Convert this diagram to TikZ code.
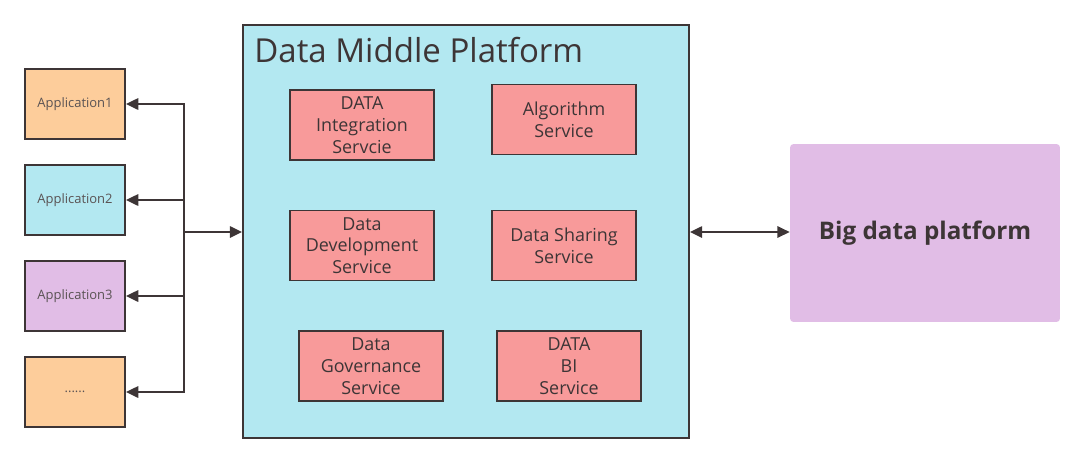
\documentclass[tikz,border=0pt]{standalone}
\usepackage{fontspec}
\setmainfont{Open Sans}
\usepackage{tikz}
\usetikzlibrary{arrows,arrows.meta,backgrounds,calc}
\definecolor{lineC}{HTML}{3D3536}
\definecolor{appO}{HTML}{FDCD9B}
\definecolor{appC}{HTML}{B3E8F1}
\definecolor{appP}{HTML}{E1BDE6}
\definecolor{servR}{HTML}{F89A9A}

\begin{document}
\begin{tikzpicture}[x=0.02cm,y=-0.02cm,
  app/.style={draw=lineC,line width=1.1pt,minimum width=2cm,minimum height=1.4cm,
    font=\fontsize{7.4}{9}\selectfont,text=lineC!85},
  serv/.style={draw=lineC,line width=1.1pt,fill=servR,minimum width=2.88cm,minimum height=1.4cm,
    align=center,font=\fontsize{10.2}{12.4}\selectfont,text=lineC},
  conn/.style={draw=lineC,line width=1.1pt,>={Triangle[length=7pt,width=6.5pt]}}]
\useasboundingbox (0,0) rectangle (1084,464);
% applications
\node[app,fill=appO] (app1) at (75,104) {Application1};
\node[app,fill=appC] (app2) at (75,200) {Application2};
\node[app,fill=appP] (app3) at (75,296) {Application3};
\node[app,fill=appO] (app4) at (75,392) {......};
% data middle platform
\node[draw=lineC,line width=1.1pt,fill=appC,minimum width=8.92cm,minimum height=8.26cm] (dmp) at (466,231.5) {};
\node[below right,inner sep=0pt,font=\fontsize{18.8}{20}\selectfont,text=lineC] (title) at (254,37) {Data Middle Platform};
\node[serv] (integ) at (362,125) {DATA\\Integration\\Servcie};
\node[serv] (algo) at (564,119.5) {Algorithm\\Service};
\node[serv] (devel) at (362,245.5) {Data\\Development\\Service};
\node[serv] (share) at (564,245.5) {Data Sharing\\Service};
\node[serv] (gov) at (371,366) {Data\\Governance\\Service};
\node[serv] (bi) at (569,366) {DATA\\BI\\Service};
% big data platform
\node[fill=appP,rounded corners=2pt,minimum width=5.4cm,minimum height=3.56cm,
  font=\fontsize{13.8}{15}\selectfont\bfseries,text=lineC] (big) at (925,233) {Big data platform};
% connectors
\coordinate (bus) at (184,232);
\draw[conn,->] (bus) |- (app1.east);
\draw[conn,->] (bus) |- (app2.east);
\draw[conn,->] (bus) |- (app3.east);
\draw[conn,->] (bus) |- (app4.east);
\draw[conn,->] (bus) -- (dmp.west|-bus);
\draw[conn,<->] (dmp.east|-bus) -- (big.west|-bus);
\end{tikzpicture}
\end{document}
